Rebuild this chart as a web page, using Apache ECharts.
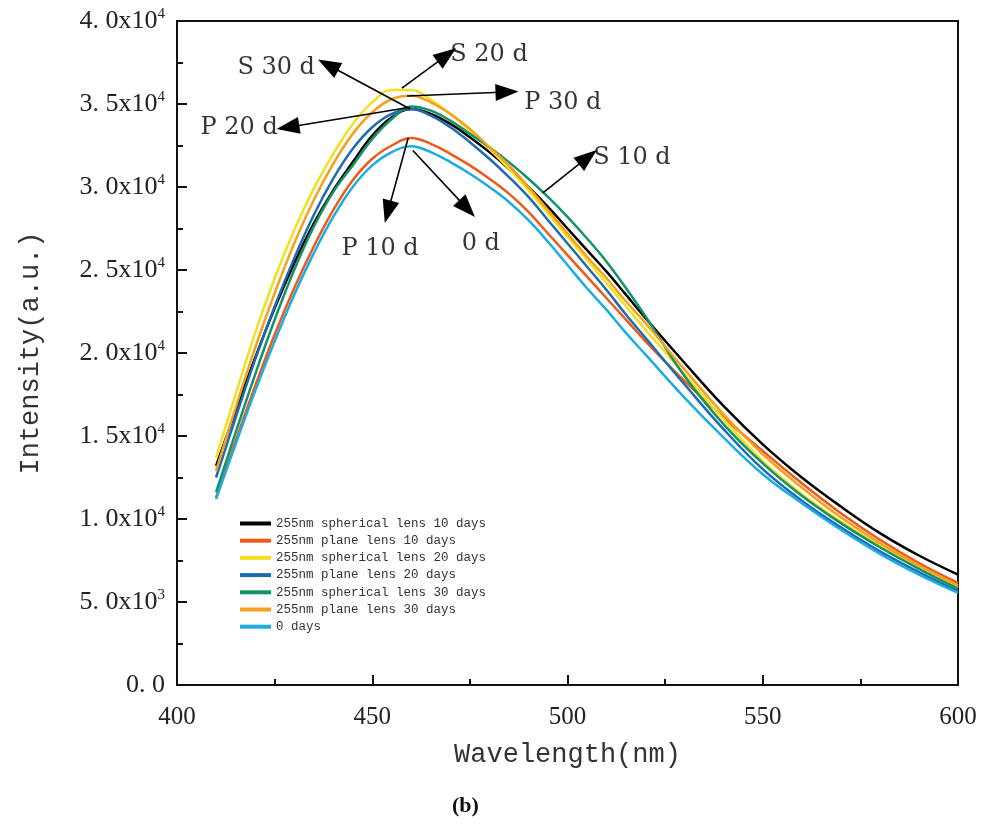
<!DOCTYPE html>
<html>
<head>
<meta charset="utf-8">
<script src="https://cdn.jsdelivr.net/npm/echarts@6/dist/echarts.min.js"></script>
<style>
html,body{margin:0;padding:0;background:#fff;}
#chart{width:992px;height:826px;}
</style>
</head>
<body>
<div id="chart"></div>
<script>
// ---- data (values in units of 1e3 a.u.) ----
var wavelengths = [410,415,420,425,430,435,440,445,450,455,460,465,470,475,480,485,490,495,500,505,510,515,520,530,540,550,560,570,580,590,600];

var seriesNames = [
  '255nm spherical lens 10 days',
  '255nm plane lens 10 days',
  '255nm spherical lens 20 days',
  '255nm plane lens 20 days',
  '255nm spherical lens 30 days',
  '255nm plane lens 30 days',
  '0 days'
];

var sphere10 = [13.2,16.5,19.7,22.7,25.4,27.8,29.8,31.5,33.1,34.2,34.7,34.4,33.8,33.0,32.1,31.1,30.0,28.8,27.5,26.2,24.9,23.5,22.1,19.4,16.8,14.5,12.5,10.75,9.15,7.8,6.65];
var plane10  = [11.3,14.7,18.0,21.1,23.9,26.4,28.6,30.4,31.7,32.5,32.95,32.6,32.0,31.3,30.5,29.6,28.5,27.2,25.9,24.6,23.3,22.0,20.7,18.3,16.1,14.1,12.15,10.35,8.75,7.35,6.15];
var sphere20 = [13.7,17.5,21.2,24.5,27.4,29.9,32.0,33.8,35.1,35.85,35.85,35.25,34.4,33.4,32.3,31.1,29.8,28.4,27.0,25.6,24.2,22.8,21.4,18.7,16.0,13.5,11.5,9.85,8.4,7.05,5.9];
var plane20  = [12.5,16.1,19.6,22.8,25.7,28.3,30.5,32.3,33.6,34.4,34.7,34.3,33.6,32.7,31.7,30.6,29.4,28.0,26.6,25.2,23.8,22.3,20.9,18.1,15.4,13.0,11.1,9.5,8.05,6.8,5.65];
var sphere30 = [11.6,15.2,18.7,22.0,25.0,27.6,29.7,31.3,32.9,34.1,34.85,34.6,34.0,33.2,32.4,31.5,30.5,29.4,28.2,26.9,25.5,23.9,22.2,18.6,15.7,13.35,11.4,9.75,8.3,7.0,5.8];
var plane30  = [12.9,16.7,20.3,23.6,26.6,29.2,31.4,33.2,34.5,35.3,35.5,35.1,34.4,33.5,32.4,31.3,30.0,28.6,27.2,25.8,24.5,23.1,21.8,19.0,16.3,13.9,11.9,10.1,8.55,7.2,6.0];
var day0     = [11.2,14.5,17.7,20.7,23.5,26.0,28.2,30.0,31.3,32.1,32.45,32.1,31.5,30.8,30.0,29.1,28.0,26.7,25.3,23.9,22.6,21.2,19.9,17.3,14.9,12.7,10.95,9.35,7.9,6.65,5.55];

var seriesData = [sphere10, plane10, sphere20, plane20, sphere30, plane30, day0];

// y tick labels (mantissa + exponent)
var yTickMantissa = ['0. 0','5. 0x10','1. 0x10','1. 5x10','2. 0x10','2. 5x10','3. 0x10','3. 5x10','4. 0x10'];
var yTickExponent = ['','3','4','4','4','4','4','4','4'];

// annotations (data coordinates, intensity in 1e3)
var annotLabels = ['S 30 d','S 20 d','P 30 d','P 20 d','S 10 d','P 10 d','0 d'];
var annotTextPos = [[425.4,37.2],[479.9,37.95],[498.8,35.06],[415.9,33.55],[516.5,31.75],[452.0,26.3],[477.8,26.6]];
var arrowFrom = [[459.7,34.7],[457.6,35.96],[458.9,35.48],[459.7,34.8],[493.7,29.64],[459.2,32.95],[460.4,32.2]];
var arrowTo   = [[438.7,37.35],[469.1,37.95],[484.5,35.72],[428.4,33.6],[505.2,31.8],[454.0,28.5],[474.3,28.7]];

// ---- styling ----
var colors = ['#000000','#EE5A19','#F3E01E','#1B6CB0','#12936A','#F7A01C','#1CACE3'];

var chart = echarts.init(document.getElementById('chart'), null, {renderer:'canvas'});

var series = seriesNames.map(function(name, i){
  return {
    name: name,
    type: 'line',
    smooth: 0.4,
    symbol: 'none',
    silent: true,
    color: colors[i],
    lineStyle: {width: 2.5, color: colors[i]},
    data: wavelengths.map(function(w, j){ return [w, seriesData[i][j]*1000]; })
  };
});

series.push({
  name: 'annotations',
  type: 'scatter',
  symbol: 'circle',
  symbolSize: 1,
  silent: true,
  itemStyle: {color: 'rgba(0,0,0,0)'},
  label: {
    show: true,
    position: 'inside',
    formatter: function(p){ return p.data[2]; },
    fontFamily: 'DejaVu Serif',
    fontSize: 24,
    color: '#000'
  },
  data: annotLabels.map(function(t, i){ return [annotTextPos[i][0], annotTextPos[i][1]*1000, t]; }),
  markLine: {
    silent: true,
    symbol: ['none','triangle'],
    symbolSize: [17, 23],
    label: {show: false},
    lineStyle: {color: '#000', width: 1.6, type: 'solid'},
    animation: false,
    data: arrowFrom.map(function(a, i){
      return [{coord:[a[0], a[1]*1000]}, {coord:[arrowTo[i][0], arrowTo[i][1]*1000]}];
    })
  }
});

var option = {
  animation: false,
  backgroundColor: '#ffffff',
  grid: {left: 177, right: 34, top: 21, bottom: 141, show: true, borderColor: '#111', borderWidth: 2, containLabel: false},
  legend: {
    data: seriesNames,
    orient: 'vertical',
    left: 235,
    top: 512,
    icon: 'rect',
    itemWidth: 31,
    itemHeight: 4,
    itemGap: 4.2,
    selectedMode: false,
    textStyle: {fontFamily: 'Liberation Mono', fontSize: 12.5, color: '#333', lineHeight: 13}
  },
  xAxis: {
    type: 'value',
    min: 400, max: 600, interval: 50,
    name: 'Wavelength(nm)',
    nameLocation: 'middle',
    nameGap: 56,
    nameTextStyle: {fontFamily: 'Liberation Mono', fontSize: 27, color: '#333'},
    axisLine: {show: true, lineStyle: {color: '#111', width: 2}},
    axisTick: {show: true, inside: true, length: 10, lineStyle: {color: '#111', width: 2}},
    minorTick: {show: true, splitNumber: 2, length: 6, lineStyle: {color: '#111', width: 2}},
    splitLine: {show: false},
    axisLabel: {fontFamily: 'Liberation Serif', fontSize: 25, color: '#222', margin: 20}
  },
  yAxis: {
    type: 'value',
    min: 0, max: 40000, interval: 5000,
    name: 'Intensity(a.u.)',
    nameLocation: 'middle',
    nameRotate: 90,
    nameGap: 133,
    nameTextStyle: {fontFamily: 'Liberation Mono', fontSize: 27, color: '#333'},
    axisLine: {show: true, lineStyle: {color: '#111', width: 2}},
    axisTick: {show: true, inside: true, length: 10, lineStyle: {color: '#111', width: 2}},
    minorTick: {show: true, splitNumber: 2, length: 6, lineStyle: {color: '#111', width: 2}},
    splitLine: {show: false},
    axisLabel: {
      margin: 12,
      formatter: function(v){
        var k = Math.round(v/5000);
        if (!yTickExponent[k]) return '{a|' + yTickMantissa[k] + '}';
        return '{a|' + yTickMantissa[k] + '}{s|' + yTickExponent[k] + '}';
      },
      rich: {
        a: {fontFamily: 'Liberation Serif', fontSize: 26, color: '#222', lineHeight: 28},
        s: {fontFamily: 'Liberation Serif', fontSize: 15, color: '#222', lineHeight: 28, padding: [0,0,14,0]}
      }
    }
  },
  graphic: [{
    type: 'text',
    left: 452,
    top: 795,
    style: {text: '(b)', font: 'bold 22px "Liberation Serif"', fill: '#111'}
  }],
  series: series
};

chart.setOption(option);
</script>
</body>
</html>
